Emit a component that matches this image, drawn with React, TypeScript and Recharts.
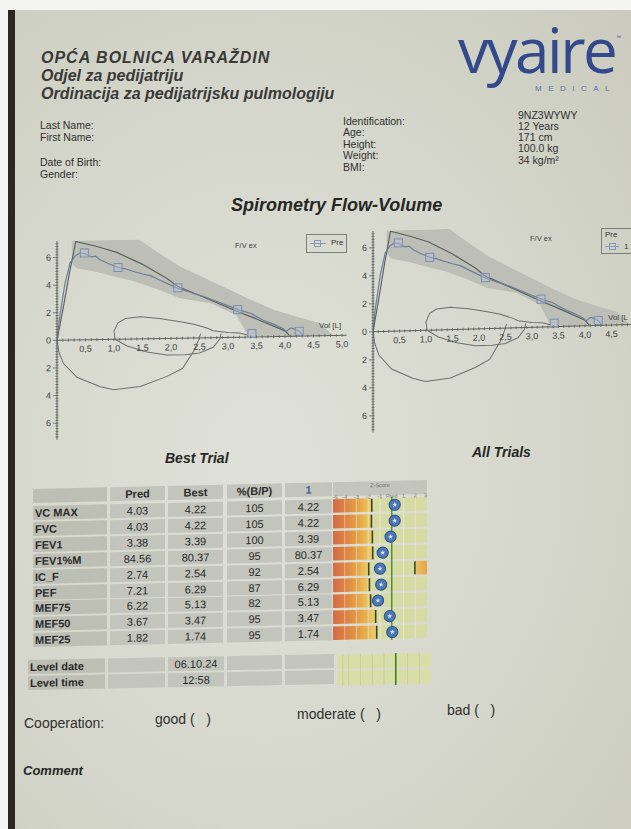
import React from "react";
import {
  ComposedChart,
  Line,
  Area,
  Bar,
  XAxis,
  YAxis,
  ReferenceLine,
} from "recharts";

const FONT = '"Liberation Sans", Arial, Helvetica, sans-serif';

// ---- flow-volume loop (Vol [L] / Flow [L/s]) ----
const measVol = [0, 0.05, 0.14, 0.23, 0.32, 0.4, 0.49, 0.6, 0.68, 0.75, 0.9, 1.07, 1.2, 1.3, 1.5, 1.65, 1.8, 2.1, 2.35, 2.6, 2.9, 3.18, 3.4, 3.62, 3.8, 3.97, 4.02, 4.1, 4.18, 4.25, 4.3];
const measFlow = [0, 1.8, 4.1, 5.6, 6.1, 6.3, 6.25, 6.0, 6.05, 5.8, 5.5, 5.2, 5.1, 4.95, 4.7, 4.55, 4.25, 3.65, 3.3, 2.95, 2.45, 2.0, 1.7, 1.2, 0.9, 0.55, 0.35, 0.6, 0.5, 0.35, 0.12];

const predVol = [0, 0.12, 0.22, 0.33, 0.7, 1.05, 1.5, 1.93, 2.12, 2.6, 3.09, 3.5, 4.0, 4.08];
const predFlow = [0, 2.6, 4.9, 7.15, 6.75, 6.3, 5.4, 4.35, 3.75, 2.9, 2.0, 1.3, 0.4, 0.05];

const bandVol = [0.26, 0.34, 0.7, 1.05, 1.34, 1.75, 2.16, 2.7, 3.15, 3.35, 3.8, 4.3, 4.6, 4.85];
const bandHigh = [7.5, 7.5, 7.5, 7.5, 7.5, 6.3, 5.2, 4.1, 3.2, 2.8, 1.95, 1.3, 0.95, 0];
const bandLow = [5.6, 5.2, 4.9, 4.5, 4.2, 3.6, 2.9, 2.5, 1.6, 0.1, 0, 0, 0, 0];

const markVol = [0.48, 1.07, 2.12, 3.17, 3.42, 4.25];
const markFlow = [6.3, 5.2, 3.65, 2.0, 0.25, 0.35];

const inspVol = [0, 0.03, 0.11, 0.35, 0.75, 0.99, 1.46, 1.93, 2.2, 2.4, 2.48, 2.52];
const inspFlow = [0, -0.8, -1.67, -2.7, -3.4, -3.65, -3.45, -2.75, -2.2, -0.95, -0.2, 0.3];

const tidalVol = [3.35, 3.2, 3.0, 2.74, 2.63, 2.4, 2.16, 1.8, 1.46, 1.2, 1.07, 1.0, 1.02, 1.23, 1.58, 1.93, 2.25, 2.5, 2.74, 2.86, 2.88];
const tidalFlow = [0.15, 0.3, 0.35, 0.5, 0.7, 1.0, 1.2, 1.45, 1.6, 1.5, 1.2, 0.6, 0, -0.5, -0.95, -1.2, -1.2, -1.1, -0.7, -0.1, 0.3];

const xLabelTicks = [0.5, 1.0, 1.5, 2.0, 2.5, 3.0, 3.5, 4.0, 4.5, 5.0];
const yLabelTicks = [-6, -4, -2, 0, 2, 4, 6];

// ---- results table ----
const params = ["VC MAX", "FVC", "FEV1", "FEV1%M", "IC_F", "PEF", "MEF75", "MEF50", "MEF25"];
const predVals = [4.03, 4.03, 3.38, 84.56, 2.74, 7.21, 6.22, 3.67, 1.82];
const bestVals = [4.22, 4.22, 3.39, 80.37, 2.54, 6.29, 5.13, 3.47, 1.74];
const pctVals = [105, 105, 100, 95, 92, 87, 82, 95, 95];
const trial1Vals = [4.22, 4.22, 3.39, 80.37, 2.54, 6.29, 5.13, 3.47, 1.74];
const zScores = [0.25, 0.25, -0.1, -0.77, -1.0, -0.9, -1.17, -0.17, 0.05];
const zLln = [-1.7, -1.73, -1.65, -1.62, -1.96, -1.9, -1.8, -1.37, -1.28];
const zUln = [null, null, null, null, 1.97, null, null, null, null];
const zAxisTicks = [-5, -4, -3, -2, -1, 0, 1, 2, 3];
const zGridLines = [-4, -3, -2, -1, 1, 2];
const levelRows = ["Level date", "Level time"];
const levelVals = ["06.10.24", "12:58"];

const zip = (vs: number[], fs: number[]) => vs.map((v, i) => ({ vol: v, flow: fs[i] }));
const measured = zip(measVol, measFlow);
const predicted = zip(predVol, predFlow);
const inspiration = zip(inspVol, inspFlow);
const tidal = zip(tidalVol, tidalFlow);
const markers = zip(markVol, markFlow);
const band = bandVol.map((v, i) => ({ vol: v, range: [bandLow[i], bandHigh[i]] }));

const Y_MIN = -7.2;
const Y_MAX = 7.2;
const X_MAX = 5.08;
const Y_W = 30;
const xMinor = Array.from({ length: 51 }, (_, i) => i / 10);
const yMinor = Array.from({ length: 71 }, (_, i) => Math.round((-7 + i * 0.2) * 10) / 10);
const fmtVol = (v: number) => v.toFixed(1).replace(".", ",");

const AXIS = "#5f615e";

function Square(p: any) {
  const { cx, cy, index } = p;
  if (cx == null || cy == null) return null;
  return (
    <rect key={`m${index}`} x={cx - 4} y={cy - 4} width={8} height={8}
      fill="rgba(185,195,215,0.45)" stroke="#7d8db0" strokeWidth={1} />
  );
}

type FVProps = { axisX: number; zeroY: number; xUnit: number; yUnit: number; skew: number };

function FlowVolume({ axisX, zeroY, xUnit, yUnit, skew }: FVProps) {
  const plotH = (Y_MAX - Y_MIN) * yUnit;
  const plotW = X_MAX * xUnit;
  const zero = Y_MAX * yUnit;
  const width = Y_W + plotW + 12;
  const height = plotH + 2;

  const XTick = (p: any) => {
    const v = p.payload.value;
    const major = xLabelTicks.includes(v);
    return (
      <g>
        <line x1={p.x} x2={p.x} y1={zero - 1.5} y2={zero + 1.5} stroke={AXIS} strokeWidth={0.8} />
        {major && (
          <text x={p.x} y={zero + 12} textAnchor="middle" fontSize={9} fill="#3d3f3d" fontFamily={FONT}>
            {fmtVol(v)}
          </text>
        )}
      </g>
    );
  };
  const YTick = (p: any) => {
    const v = p.payload.value;
    const major = yLabelTicks.includes(v);
    return (
      <g>
        <line x1={p.x - (major ? 4 : 1.5)} x2={p.x + 1.5} y1={p.y} y2={p.y} stroke={AXIS} strokeWidth={0.8} />
        {major && (
          <text x={p.x - 6} y={p.y + 3} textAnchor="end" fontSize={9} fill="#3d3f3d" fontFamily={FONT}>
            {Math.abs(v)}
          </text>
        )}
      </g>
    );
  };

  return (
    <div style={{
      position: "absolute", left: axisX - Y_W, top: zeroY - zero,
      transform: `skewY(${skew}deg)`, transformOrigin: `${Y_W}px ${zero}px`,
    }}>
      <ComposedChart width={width} height={height} margin={{ top: 0, right: 12, bottom: 0, left: 0 }}>
        <XAxis type="number" dataKey="vol" domain={[0, X_MAX]} ticks={xMinor} interval={0}
          tick={XTick} tickSize={0} tickMargin={0} tickLine={false} axisLine={false} height={2} allowDataOverflow />
        <YAxis type="number" domain={[Y_MIN, Y_MAX]} ticks={yMinor} interval={0} tick={YTick}
          tickSize={0} tickMargin={0} tickLine={false} width={Y_W} axisLine={{ stroke: AXIS, strokeWidth: 1 }} allowDataOverflow />
        <Area data={band} dataKey="range" type="linear" stroke="none" fill="#bdbeb6" fillOpacity={1}
          isAnimationActive={false} dot={false} activeDot={false} />
        <ReferenceLine y={0} stroke={AXIS} strokeWidth={1} />
        <Line data={predicted} dataKey="flow" type="linear" stroke="#5e605f" strokeWidth={1.2} dot={false} isAnimationActive={false} />
        <Line data={inspiration} dataKey="flow" type="linear" stroke="#6d6f6e" strokeWidth={1} dot={false} isAnimationActive={false} />
        <Line data={tidal} dataKey="flow" type="linear" stroke="#6d6f6e" strokeWidth={1} dot={false} isAnimationActive={false} />
        <Line data={measured} dataKey="flow" type="linear" stroke="#6e7e98" strokeWidth={1.2} dot={false} isAnimationActive={false} />
        <Line data={markers} dataKey="flow" stroke="none" dot={Square} activeDot={false} isAnimationActive={false} />
      </ComposedChart>
    </div>
  );
}

// ---- z-score column ----
function StarDot(p: any) {
  const { cx, cy, index, value } = p;
  if (cx == null || cy == null || value == null) return null;
  const pts: string[] = [];
  for (let k = 0; k < 10; k++) {
    const r = k % 2 === 0 ? 2.6 : 1.1;
    const a = -Math.PI / 2 + (k * Math.PI) / 5;
    pts.push(`${cx + r * Math.cos(a)},${cy + r * Math.sin(a)}`);
  }
  return (
    <g key={`z${index}`}>
      <circle cx={cx} cy={cy} r={5.6} fill="#4a79b9" stroke="#2d4f86" strokeWidth={1} />
      <polygon points={pts.join(" ")} fill="#dfe8f5" />
    </g>
  );
}

function LimitMark(p: any) {
  const { cx, cy, index, value } = p;
  if (cx == null || cy == null || value == null) return null;
  return <line key={`l${index}${cx}`} x1={cx} x2={cx} y1={cy - 6.5} y2={cy + 6.5} stroke="#3b4424" strokeWidth={1.6} />;
}

const ROW_P = 15.9;
const zRows = params.map((name, i) => ({
  name,
  low: [-5, zLln[i]],
  high: [zLln[i], 3],
  upper: zUln[i] == null ? null : [zUln[i], 3],
  z: zScores[i],
  lln: zLln[i],
  uln: zUln[i],
}));
const levelData = levelRows.map((name) => ({ name, full: [-5, 3] }));

function ZHeadTick(p: any) {
  const v = p.payload.value;
  const anchor = v === zAxisTicks[0] ? "start" : v === zAxisTicks[zAxisTicks.length - 1] ? "end" : "middle";
  return (
    <text x={p.x} y={p.y + 1} textAnchor={anchor} fontSize={5.5} fill="#74756d" fontFamily={FONT}>
      {v === 0 ? "Pred" : v}
    </text>
  );
}

function ZChart() {
  const head = 16;
  return (
    <ComposedChart layout="vertical" width={94} height={head + params.length * ROW_P} data={zRows}
      margin={{ top: 0, right: 0, bottom: 0, left: 0 }} barGap={-13.5}>
      <defs>
        <linearGradient id="zLow" x1="0" y1="0" x2="1" y2="0">
          <stop offset="0%" stopColor="#d36a45" />
          <stop offset="40%" stopColor="#df8a44" />
          <stop offset="75%" stopColor="#e8ae4b" />
          <stop offset="100%" stopColor="#ebcf74" />
        </linearGradient>
        <linearGradient id="zHigh" x1="0" y1="0" x2="1" y2="0">
          <stop offset="0%" stopColor="#e9c36a" />
          <stop offset="100%" stopColor="#e6a443" />
        </linearGradient>
      </defs>
      <XAxis type="number" orientation="top" domain={[-5, 3]} ticks={zAxisTicks} interval={0} height={head}
        tick={ZHeadTick} tickSize={0} tickMargin={0} tickLine={false} axisLine={false} />
      <YAxis type="category" dataKey="name" hide />
      <Bar dataKey="high" fill="#d6dba4" barSize={13.5} isAnimationActive={false} />
      <Bar dataKey="low" fill="url(#zLow)" barSize={13.5} isAnimationActive={false} />
      <Bar dataKey="upper" fill="url(#zHigh)" barSize={13.5} isAnimationActive={false} />
      {zGridLines.map((v) => (
        <ReferenceLine key={v} x={v} stroke="rgba(250,248,225,0.55)" strokeWidth={0.8} />
      ))}
      <ReferenceLine x={0} stroke="#4d8a2f" strokeWidth={1.4} />
      <Line dataKey="lln" stroke="none" dot={LimitMark} activeDot={false} isAnimationActive={false} />
      <Line dataKey="uln" stroke="none" dot={LimitMark} activeDot={false} isAnimationActive={false} />
      <Line dataKey="z" stroke="none" dot={StarDot} activeDot={false} isAnimationActive={false} />
    </ComposedChart>
  );
}

function LevelChart() {
  return (
    <ComposedChart layout="vertical" width={94} height={levelRows.length * 16} data={levelData}
      margin={{ top: 0, right: 0, bottom: 0, left: 0 }}>
      <XAxis type="number" domain={[-5, 3]} hide />
      <YAxis type="category" dataKey="name" hide />
      <Bar dataKey="full" fill="#d9dea9" barSize={14} isAnimationActive={false} />
      {zGridLines.concat([-4.5]).map((v) => (
        <ReferenceLine key={v} x={v} stroke="rgba(170,180,120,0.45)" strokeWidth={0.8} />
      ))}
      <ReferenceLine x={0} stroke="#3f7f29" strokeWidth={1.6} />
    </ComposedChart>
  );
}

// ---- page helpers ----
type TP = { x: number; y: number; s?: number; b?: boolean; i?: boolean; c?: string; ls?: number; children: React.ReactNode };
function T({ x, y, s = 10.5, b, i, c = "#2f302e", ls = 0, children }: TP) {
  const lh = Math.round(s * 1.2);
  return (
    <div style={{
      position: "absolute", left: x, top: y - lh / 2, fontSize: s, lineHeight: `${lh}px`,
      fontWeight: b ? 700 : 400, fontStyle: i ? "italic" : "normal", color: c, letterSpacing: ls,
      whiteSpace: "nowrap", fontFamily: FONT,
    }}>{children}</div>
  );
}

const CELL_BG = "#c3c4bb";
const LABEL_BG = "#bdbeb4";

function Cell({ l, t, w, h, bg, children, left, blue, bold }: any) {
  return (
    <div style={{
      position: "absolute", left: l, top: t, width: w, height: h, background: bg,
      display: "flex", alignItems: "center", justifyContent: left ? "flex-start" : "center",
      paddingLeft: left ? 2 : 0, boxSizing: "border-box", fontFamily: FONT, fontSize: 11,
      fontWeight: bold ? 700 : 400, color: blue ? "#4b5d9e" : "#2a2b29", whiteSpace: "nowrap",
    }}>{children}</div>
  );
}

const cols = [
  { l: 33, w: 74 }, { l: 110, w: 55 }, { l: 168, w: 55 }, { l: 227, w: 55 }, { l: 285, w: 47 }, { l: 333, w: 94 },
];
const lowCols = [
  { l: 28, w: 77 }, { l: 108, w: 57 }, { l: 168, w: 56 }, { l: 227, w: 55 }, { l: 285, w: 49 }, { l: 337, w: 94 },
];

export default function App() {
  const headTop = 489;
  const rowTop = 506;
  return (
    <div style={{ position: "absolute", left: 0, top: 0, width: 631, height: 829, overflow: "hidden", background: "#f4f4f2" }}>
      <div style={{ position: "absolute", left: 8, top: 10, width: 8, height: 819, background: "#2c2723" }} />
      <div style={{
        position: "absolute", left: 15, top: 10, width: 616, height: 819,
        background: "radial-gradient(ellipse at 40% 55%, #dfe0d7 0%, #d6d7cc 55%, #cacbbe 100%)",
      }} />

      {/* header */}
      <T x={41} y={57} s={16} b i c="#393a38" ls={1}>OPĆA BOLNICA VARAŽDIN</T>
      <T x={41} y={75} s={16} b i c="#393a38">Odjel za pedijatriju</T>
      <T x={41} y={93} s={16} b i c="#393a38">Ordinacija za pedijatrijsku pulmologiju</T>

      <div style={{
        position: "absolute", left: 458, top: 24, fontFamily: '"Open Sans", sans-serif', fontSize: 62,
        lineHeight: "50px", letterSpacing: -2.5, color: "#34498c",
      }}>vyaire</div>
      <div style={{ position: "absolute", left: 616, top: 34, fontSize: 5, lineHeight: "6px", color: "#34498c", fontFamily: FONT }}>™</div>
      <div style={{
        position: "absolute", left: 535, top: 84, fontFamily: FONT, fontSize: 8, lineHeight: "9px", letterSpacing: 6.5, color: "#5f6fa3",
      }}>MEDICAL</div>

      <T x={40} y={125}>Last Name:</T>
      <T x={40} y={137}>First Name:</T>
      <T x={40} y={162}>Date of Birth:</T>
      <T x={40} y={174}>Gender:</T>

      <T x={343} y={121}>Identification:</T>
      <T x={343} y={132}>Age:</T>
      <T x={343} y={144}>Height:</T>
      <T x={343} y={155}>Weight:</T>
      <T x={343} y={167}>BMI:</T>

      <T x={518} y={115}>9NZ3WYWY</T>
      <T x={518} y={126}>12 Years</T>
      <T x={518} y={137}>171 cm</T>
      <T x={518} y={148}>100.0 kg</T>
      <T x={518} y={160}>34 kg/m²</T>

      <T x={231} y={205} s={18} b i c="#262725">Spirometry Flow-Volume</T>

      {/* chart 1: best trial */}
      <FlowVolume axisX={57} zeroY={340} xUnit={57} yUnit={13.8} skew={-1} />
      <T x={235} y={245} s={7.5} c="#3e403d">F/V ex</T>
      <div style={{
        position: "absolute", left: 306, top: 234, width: 41, height: 19, border: "1px solid #7c7e79",
        boxSizing: "border-box", fontFamily: FONT, fontSize: 8, color: "#333",
      }}>
        <div style={{ position: "absolute", left: 3, top: 8, width: 16, height: 1, background: "#8a98b8" }} />
        <div style={{ position: "absolute", left: 7, top: 4.5, width: 7, height: 7, border: "1px solid #8a98b8", boxSizing: "border-box" }} />
        <div style={{ position: "absolute", left: 24, top: 3 }}>Pre</div>
      </div>
      <T x={319} y={326} s={8} c="#3e403d">Vol [L]</T>

      {/* chart 2: all trials */}
      <FlowVolume axisX={373} zeroY={332} xUnit={53} yUnit={14} skew={-1.6} />
      <T x={530} y={238} s={7.5} c="#3e403d">F/V ex</T>
      <div style={{
        position: "absolute", left: 601, top: 228, width: 40, height: 26, border: "1px solid #7c7e79",
        boxSizing: "border-box", fontFamily: FONT, fontSize: 8, color: "#333",
      }}>
        <div style={{ position: "absolute", left: 3, top: 1 }}>Pre</div>
        <div style={{ position: "absolute", left: 3, top: 17, width: 14, height: 1, background: "#8a98b8" }} />
        <div style={{ position: "absolute", left: 6.5, top: 14, width: 7, height: 7, border: "1px solid #8a98b8", boxSizing: "border-box" }} />
        <div style={{ position: "absolute", left: 22, top: 12.5 }}>1</div>
      </div>
      <T x={608} y={318} s={8} c="#3e403d">Vol [L</T>

      <T x={165} y={458} s={14} b i c="#262725">Best Trial</T>
      <T x={472} y={452} s={14} b i c="#262725">All Trials</T>

      {/* results table */}
      <div style={{ position: "absolute", left: 0, top: 0, width: 631, height: 829, transform: "skewY(-1.3deg)", transformOrigin: "33px 489px" }}>
        <Cell l={cols[0].l} t={headTop} w={cols[0].w} h={14} bg={LABEL_BG} />
        <Cell l={cols[1].l} t={headTop} w={cols[1].w} h={14} bg={CELL_BG} bold>Pred</Cell>
        <Cell l={cols[2].l} t={headTop} w={cols[2].w} h={14} bg={CELL_BG} bold>Best</Cell>
        <Cell l={cols[3].l} t={headTop} w={cols[3].w} h={14} bg={CELL_BG} bold>%(B/P)</Cell>
        <Cell l={cols[4].l} t={headTop} w={cols[4].w} h={14} bg={CELL_BG} bold blue>1</Cell>
        <Cell l={cols[5].l} t={headTop} w={cols[5].w} h={14} bg={CELL_BG} />
        <div style={{ position: "absolute", left: 333, top: headTop + 1, width: 94, textAlign: "center", fontSize: 5.5, lineHeight: "6px", color: "#6e6f68", fontFamily: FONT }}>Z-Score</div>
        {params.map((p, i) => {
          const t = rowTop + i * ROW_P;
          return (
            <React.Fragment key={p}>
              <Cell l={cols[0].l} t={t} w={cols[0].w} h={14} bg={LABEL_BG} left bold>{p}</Cell>
              <Cell l={cols[1].l} t={t} w={cols[1].w} h={14} bg={CELL_BG}>{predVals[i].toFixed(2)}</Cell>
              <Cell l={cols[2].l} t={t} w={cols[2].w} h={14} bg={CELL_BG}>{bestVals[i].toFixed(2)}</Cell>
              <Cell l={cols[3].l} t={t} w={cols[3].w} h={14} bg={CELL_BG}>{pctVals[i]}</Cell>
              <Cell l={cols[4].l} t={t} w={cols[4].w} h={14} bg={CELL_BG}>{trial1Vals[i].toFixed(2)}</Cell>
            </React.Fragment>
          );
        })}
        <div style={{ position: "absolute", left: cols[5].l, top: headTop }}>
          <ZChart />
        </div>
      </div>

      <div style={{ position: "absolute", left: 0, top: 0, width: 631, height: 829, transform: "skewY(-1.1deg)", transformOrigin: "28px 660px" }}>
        {levelRows.map((r, i) => {
          const t = 660 + i * 16;
          return (
            <React.Fragment key={r}>
              <Cell l={lowCols[0].l} t={t} w={lowCols[0].w} h={14} bg={LABEL_BG} left bold>{r}</Cell>
              <Cell l={lowCols[1].l} t={t} w={lowCols[1].w} h={14} bg={CELL_BG} />
              <Cell l={lowCols[2].l} t={t} w={lowCols[2].w} h={14} bg={CELL_BG}>{levelVals[i]}</Cell>
              <Cell l={lowCols[3].l} t={t} w={lowCols[3].w} h={14} bg={CELL_BG} />
              <Cell l={lowCols[4].l} t={t} w={lowCols[4].w} h={14} bg={CELL_BG} />
            </React.Fragment>
          );
        })}
        <div style={{ position: "absolute", left: lowCols[5].l, top: 660 }}>
          <LevelChart />
        </div>
      </div>

      <T x={24} y={723} s={14}>Cooperation:</T>
      <T x={155} y={719} s={14}>good (&nbsp;&nbsp;&nbsp;)</T>
      <T x={297} y={714} s={14}>moderate (&nbsp;&nbsp;&nbsp;)</T>
      <T x={447} y={710} s={14}>bad (&nbsp;&nbsp;&nbsp;)</T>

      <T x={23} y={771} s={13} b i c="#262725">Comment</T>
    </div>
  );
}
